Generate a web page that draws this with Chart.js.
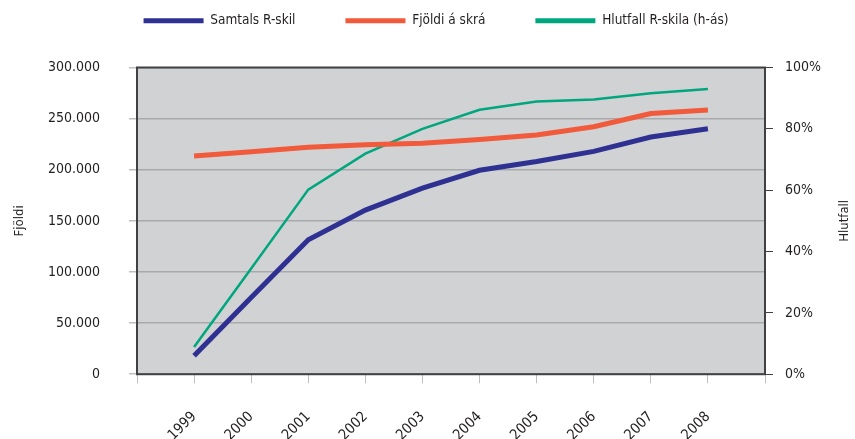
<!DOCTYPE html>
<html>
<head>
<meta charset="UTF-8">
<title>R-skil</title>
<script src="https://cdn.jsdelivr.net/npm/chart.js"></script>
<style>
    html, body { margin: 0; padding: 0; background: #fff; }
    #wrap { width: 855px; height: 439px; }
</style>
</head>
<body>
<div id="wrap"><canvas id="chart"></canvas></div>
<script>
    var years = [1999, 2000, 2001, 2002, 2003, 2004, 2005, 2006, 2007, 2008];
    var samtals = [18000, 75000, 131500, 160500, 182000, 199500, 208000, 218000, 232000, 240000];
    var fjoldi = [213500, 217500, 222000, 224500, 226000, 229500, 234000, 242000, 255000, 258500];
    var hlutfall = [8.9, 34.5, 60.2, 71.9, 80.0, 86.2, 88.9, 89.6, 91.6, 93.0];

    var FONT = "'Liberation Sans Narrow', 'DejaVu Sans Condensed', 'Arial Narrow', sans-serif";
    var TXT = '#231f20';

    var pts = function (vals) {
        return vals.map(function (v, i) { return { x: years[i], y: v }; });
    };

    // gray plot background, frame, and the right-hand title
    var plotFrame = {
        id: 'plotFrame',
        beforeDraw: function (chart) {
            var a = chart.chartArea, ctx = chart.ctx;
            ctx.save();
            ctx.fillStyle = '#d1d2d4';
            ctx.fillRect(a.left, a.top, a.right - a.left, a.bottom - a.top);
            ctx.restore();
        },
        beforeDatasetsDraw: function (chart) {
            var a = chart.chartArea, ctx = chart.ctx;
            ctx.save();
            ctx.strokeStyle = '#414042';
            ctx.lineWidth = 2;
            ctx.strokeRect(a.left, a.top, a.right - a.left, a.bottom - a.top);
            ctx.restore();
        },
        afterDraw: function (chart) {
            var a = chart.chartArea, ctx = chart.ctx;
            ctx.save();
            ctx.translate(845, (a.top + a.bottom) / 2);
            ctx.rotate(-Math.PI / 2);
            ctx.font = '13px ' + FONT;
            ctx.fillStyle = TXT;
            ctx.textAlign = 'center';
            ctx.textBaseline = 'middle';
            ctx.fillText('Hlutfall', 0, 0);
            ctx.restore();
        }
    };

    // extra space under the legend, legend nudged right
    var legendGap = {
        id: 'legendGap',
        beforeInit: function (chart) {
            var fit = chart.legend.fit;
            chart.legend.fit = function () {
                fit.bind(chart.legend)();
                this.height += 30;
                if (this.lineWidths && this.lineWidths.length) this.lineWidths[0] -= 34;
            };
        }
    };

    new Chart(document.getElementById('chart'), {
        type: 'line',
        data: {
            datasets: [
                {
                    label: 'Samtals R-skil',
                    data: pts(samtals),
                    borderColor: '#2e3192',
                    backgroundColor: '#2e3192',
                    borderWidth: 5,
                    yAxisID: 'y'
                },
                {
                    label: 'Fjöldi á skrá',
                    data: pts(fjoldi),
                    borderColor: '#f15a3a',
                    backgroundColor: '#f15a3a',
                    borderWidth: 5,
                    yAxisID: 'y'
                },
                {
                    label: 'Hlutfall R-skila (h-ás)',
                    data: pts(hlutfall),
                    borderColor: '#00a67e',
                    backgroundColor: '#00a67e',
                    borderWidth: 2.5,
                    yAxisID: 'y2'
                }
            ]
        },
        options: {
            responsive: true,
            maintainAspectRatio: false,
            animation: false,
            elements: { point: { radius: 0 }, line: { tension: 0 } },
            layout: { padding: { top: -36, left: 6, right: 23, bottom: -30 } },
            plugins: {
                tooltip: { enabled: false },
                legend: {
                    position: 'top',
                    labels: {
                        boxWidth: 60,
                        boxHeight: 5,
                        padding: 50,
                        color: TXT,
                        font: { family: FONT, size: 13.5 },
                        generateLabels: function (chart) {
                            return chart.data.datasets.map(function (ds, i) {
                                return {
                                    text: ds.label,
                                    fillStyle: ds.borderColor,
                                    strokeStyle: ds.borderColor,
                                    lineWidth: 0,
                                    fontColor: TXT,
                                    datasetIndex: i
                                };
                            });
                        }
                    }
                }
            },
            scales: {
                x: {
                    type: 'linear',
                    min: 1998,
                    max: 2009,
                    ticks: {
                        stepSize: 1,
                        autoSkip: false,
                        minRotation: 45,
                        maxRotation: 45,
                        padding: 25,
                        color: TXT,
                        font: { family: FONT, size: 14.5 },
                        callback: function (v) {
                            return (v < 1999 || v > 2008) ? '' : String(v);
                        }
                    },
                    grid: { drawOnChartArea: false, tickLength: 9, tickColor: '#bcbec0' },
                    border: { display: false }
                },
                y: {
                    position: 'left',
                    min: 0,
                    max: 300000,
                    afterFit: function (scale) { scale.width = 131; },
                    ticks: {
                        stepSize: 50000,
                        padding: 29,
                        color: TXT,
                        font: { family: FONT, size: 14 },
                        callback: function (v) {
                            return String(v).replace(/\B(?=(\d{3})+(?!\d))/g, '.');
                        }
                    },
                    grid: { color: '#a7a9ac', lineWidth: 1.5, tickLength: 8, tickColor: '#bcbec0' },
                    border: { display: false },
                    title: {
                        display: true,
                        text: 'Fjöldi',
                        color: TXT,
                        font: { family: FONT, size: 13 },
                        padding: { top: 6, bottom: 20 }
                    }
                },
                y2: {
                    position: 'right',
                    min: 0,
                    max: 100,
                    afterFit: function (scale) { scale.width = 67; },
                    ticks: {
                        stepSize: 20,
                        padding: 12,
                        color: TXT,
                        font: { family: FONT, size: 14 },
                        callback: function (v) { return v + '%'; }
                    },
                    grid: { drawOnChartArea: false, tickLength: 8, tickColor: '#414042' },
                    border: { display: false }
                }
            }
        },
        plugins: [plotFrame, legendGap]
    });
</script>
</body>
</html>
